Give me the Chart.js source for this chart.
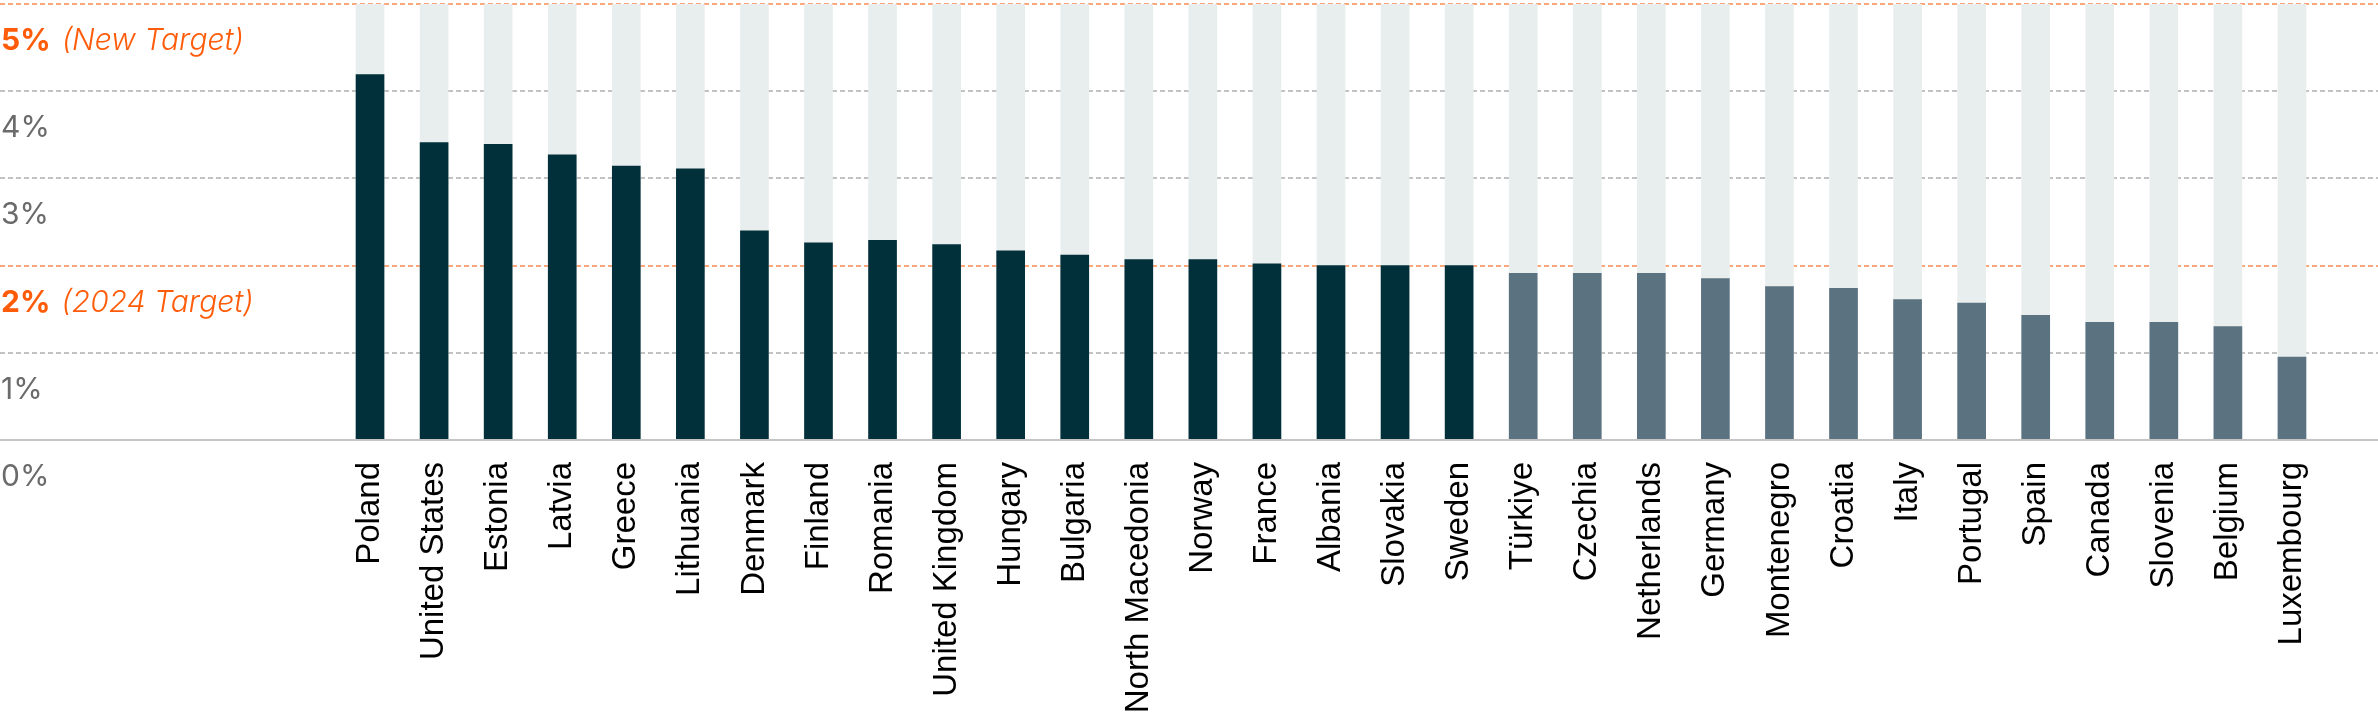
<!DOCTYPE html>
<html>
<head>
<meta charset="utf-8">
<script src="https://cdn.jsdelivr.net/npm/chart.js@4.4.1/dist/chart.umd.min.js"></script>
<style>
    html, body { margin: 0; padding: 0; background: #ffffff; }
    #wrap { width: 2378px; height: 728px; position: relative; }
</style>
</head>
<body>
<div id="wrap"><canvas id="spending-chart"></canvas></div>
<script>
// ================================
// DEFENCE SPENDING (% OF GDP) - BAR CHART
// ================================

const countries = [
    'Poland', 'United States', 'Estonia', 'Latvia', 'Greece', 'Lithuania',
    'Denmark', 'Finland', 'Romania', 'United Kingdom', 'Hungary', 'Bulgaria',
    'North Macedonia', 'Norway', 'France', 'Albania', 'Slovakia', 'Sweden',
    'Türkiye', 'Czechia', 'Netherlands', 'Germany', 'Montenegro', 'Croatia',
    'Italy', 'Portugal', 'Spain', 'Canada', 'Slovenia', 'Belgium', 'Luxembourg'
];

// share of GDP, in %
const spending = [
    4.19, 3.41, 3.39, 3.27, 3.14, 3.11,
    2.40, 2.26, 2.29, 2.24, 2.17, 2.12,
    2.07, 2.07, 2.02, 2.00, 2.00, 2.00,
    1.91, 1.91, 1.91, 1.85, 1.76, 1.74,
    1.61, 1.57, 1.43, 1.35, 1.35, 1.30, 0.95
];

const yTicks = [0, 1, 2, 3, 4, 5];
const targetValues = [2, 5];
const targetNotes = ['(2024 Target)', '(New Target)'];
const newTarget = 5;

const colors = {
    above: '#02303a',
    below: '#5b7280',
    track: '#e8eeee',
    orange: '#ff5c0a',
    orangeGrid: '#fba77a',
    grid: '#c2c2c2',
    axis: '#c4c4c4',
    tickText: '#6b6b6b',
    label: '#000000'
};

// Full-width dashed gridlines + baseline, drawn from the y scale
const gridPlugin = {
    id: 'fullGrid',
    beforeDatasetsDraw(chart) {
        const ctx = chart.ctx;
        const y = chart.scales.y;
        ctx.save();
        ctx.lineWidth = 2;
        ctx.setLineDash([5, 3]);
        yTicks.forEach(v => {
            if (v === 0) return;
            const py = Math.round(y.getPixelForValue(v));
            ctx.strokeStyle = targetValues.includes(v) ? colors.orangeGrid : colors.grid;
            ctx.beginPath();
            ctx.moveTo(0, py);
            ctx.lineTo(chart.width, py);
            ctx.stroke();
        });
        ctx.restore();
    },
    afterDatasetsDraw(chart) {
        const ctx = chart.ctx;
        const py = Math.round(chart.scales.y.getPixelForValue(0));
        ctx.save();
        ctx.strokeStyle = colors.axis;
        ctx.lineWidth = 2;
        ctx.beginPath();
        ctx.moveTo(0, py);
        ctx.lineTo(chart.width, py);
        ctx.stroke();
        ctx.restore();
    }
};

// Y tick labels sit just under their gridline, at the far left
const yLabelPlugin = {
    id: 'yLabels',
    afterDraw(chart) {
        const ctx = chart.ctx;
        const y = chart.scales.y;
        ctx.save();
        ctx.textBaseline = 'alphabetic';
        ctx.textAlign = 'left';
        yTicks.forEach(v => {
            const py = y.getPixelForValue(v) + 46;
            const text = v + '%';
            const idx = targetValues.indexOf(v);
            if (idx === -1) {
                ctx.font = '400 30px Inter, "Noto Sans", sans-serif';
                ctx.fillStyle = colors.tickText;
                ctx.fillText(text, 1, py);
            } else {
                ctx.font = '700 30px Inter, "Noto Sans", sans-serif';
                ctx.fillStyle = colors.orange;
                ctx.fillText(text, 1, py);
                const w = ctx.measureText(text).width;
                ctx.font = 'italic 300 30px Inter, "Noto Sans", sans-serif';
                ctx.fillText(targetNotes[idx], 1 + w + 11, py);
            }
        });
        ctx.restore();
    }
};

const canvas = document.getElementById('spending-chart');

new Chart(canvas.getContext('2d'), {
    type: 'bar',
    data: {
        labels: countries,
        datasets: [
            {
                label: 'Defence spending (% of GDP)',
                data: spending,
                backgroundColor: ctx => ctx.raw >= 2 ? colors.above : colors.below,
                borderWidth: 0,
                barThickness: 28,
                grouped: false,
                order: 0
            },
            {
                label: 'New target',
                data: countries.map(() => newTarget),
                backgroundColor: colors.track,
                borderWidth: 0,
                barThickness: 28,
                grouped: false,
                order: 1
            }
        ]
    },
    options: {
        responsive: true,
        maintainAspectRatio: false,
        animation: false,
        layout: {
            padding: { left: 338, right: 54, top: 4, bottom: 0 }
        },
        plugins: {
            legend: { display: false },
            tooltip: { enabled: false }
        },
        scales: {
            y: {
                display: false,
                min: 0,
                max: 5
            },
            x: {
                afterFit: scale => { scale.height = 288; },
                grid: { display: false, drawTicks: false },
                border: { display: false },
                ticks: {
                    autoSkip: false,
                    maxRotation: 90,
                    minRotation: 90,
                    padding: 22,
                    color: colors.label,
                    font: {
                        family: '"Liberation Sans", Arial, sans-serif',
                        size: 33
                    }
                }
            }
        }
    },
    plugins: [gridPlugin, yLabelPlugin]
});
</script>
</body>
</html>
